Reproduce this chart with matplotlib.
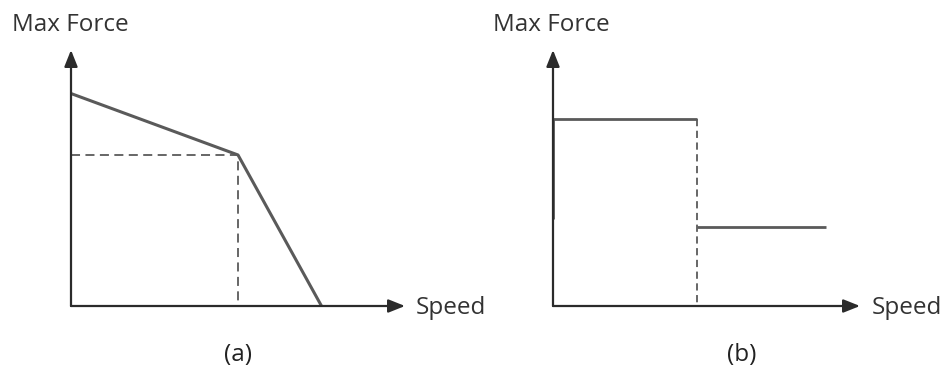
"""
Max force vs speed sketches, (a) and (b)
"""
import matplotlib.pyplot as plt

# panel (a): force curve with a knee point
speed_a = [0, 5.0, 7.5]
force_a = [8.3, 5.9, 0]
knee_a = (5.0, 5.9)

# panel (b): stepped force limit
speed_b = [0, 0, 4.7, 4.7, 8.9]
force_b = [3.4, 7.3, 7.3, 3.1, 3.1]
step_b = (4.7, 7.3)

W, H = 950, 380
AXIS_COLOR = '#2b2b2b'
CURVE_COLOR = '#5a5a5a'
TEXT_COLOR = '#333333'
FONT = ['Open Sans', 'DejaVu Sans']

fig = plt.figure(figsize=(W / 100, H / 100), dpi=100)


def draw_axes(ax):
    ax.set_xlim(0, 10)
    ax.set_ylim(0, 10)
    ax.axis('off')
    arrow = dict(arrowstyle='-|>,head_length=1.0,head_width=0.4',
                 color=AXIS_COLOR, lw=1.6, shrinkA=0, shrinkB=0)
    ax.annotate('', xy=(10, 0), xytext=(0, 0), arrowprops=arrow,
                annotation_clip=False)
    ax.annotate('', xy=(0, 10), xytext=(0, 0), arrowprops=arrow,
                annotation_clip=False)


def pane(left_px, width_px):
    return fig.add_axes([left_px / W, (H - 306) / H, width_px / W, 256 / H])


# (a)
ax_a = pane(71, 334)
draw_axes(ax_a)
ax_a.plot(speed_a, force_a, color=CURVE_COLOR, lw=2.2, solid_capstyle='butt',
          clip_on=False)
ax_a.plot([0, knee_a[0], knee_a[0]], [knee_a[1], knee_a[1], 0],
          color=CURVE_COLOR, lw=1.3, ls=(0, (5, 3)), clip_on=False)

# (b)
ax_b = pane(553, 307)
draw_axes(ax_b)
ax_b.plot(speed_b[:3], force_b[:3], color=CURVE_COLOR, lw=2.0,
          solid_capstyle='butt', clip_on=False)
ax_b.plot(speed_b[3:], force_b[3:], color=CURVE_COLOR, lw=2.0,
          solid_capstyle='butt', clip_on=False)
ax_b.plot([step_b[0], step_b[0]], [step_b[1], 0], color=CURVE_COLOR,
          lw=1.3, ls=(0, (4, 2.5)), clip_on=False)

# labels
for x_max, x_speed, x_tag, tag in [(12, 416, 238, '(a)'),
                                   (493, 872, 742, '(b)')]:
    fig.text(x_max / W, 1 - 25 / H, 'Max Force', fontsize=17.5,
             color=TEXT_COLOR, family=FONT, va='center', ha='left')
    fig.text(x_speed / W, 1 - 308 / H, 'Speed', fontsize=17.5,
             color=TEXT_COLOR, family=FONT, va='center', ha='left')
    fig.text(x_tag / W, 1 - 355 / H, tag, fontsize=17.5,
             color='#222222', family=FONT, va='center', ha='center')

fig.savefig('out.png', dpi=100)
